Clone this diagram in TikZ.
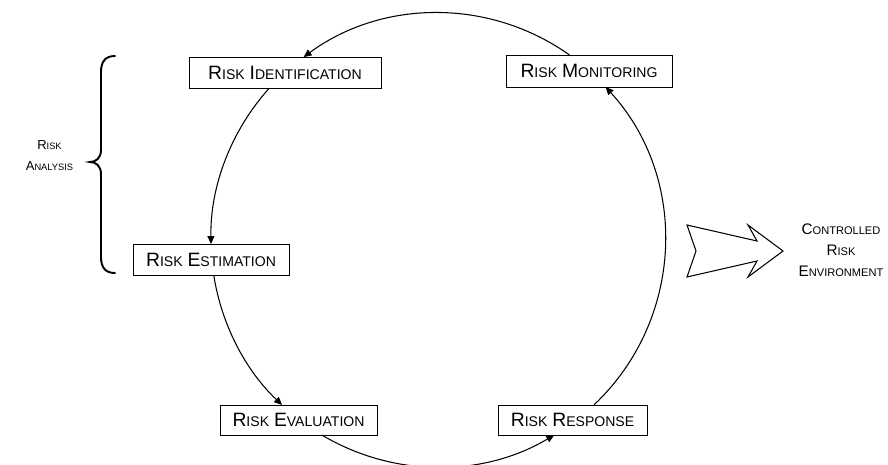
\documentclass[tikz,border=0pt]{standalone}
\usepackage{fontspec}
\setmainfont{Liberation Sans}
\usetikzlibrary{arrows.meta}
\newcommand\capsm[2]{{\fontsize{11}{13}\selectfont #1}{\fontsize{8}{10}\selectfont #2}}
\newcommand\capsa[2]{{\fontsize{7.4}{8.5}\selectfont #1}{\fontsize{5.3}{8.5}\selectfont #2}}
\newcommand\capsb[2]{{\fontsize{8.7}{10.2}\selectfont #1}{\fontsize{6.3}{10.2}\selectfont #2}}
\begin{document}
\begin{tikzpicture}[x=0.02cm,y=0.02cm,
  riskbox/.style={draw,line width=0.55pt,inner sep=0pt,fill=white},
  conn/.style={line width=0.6pt,-{Triangle[length=4.5pt,width=4pt]}},
  bracepath/.style={line width=1.1pt,line cap=round},
  bigarrow/.style={line width=0.6pt,line join=miter}]
\useasboundingbox (0,0) rectangle (888,464);
\coordinate (C) at (438,224);
% boxes
\node[riskbox,minimum width=3.84cm,minimum height=0.62cm] (ident) at (285,391.5) {\capsm{R}{ISK} \capsm{I}{DENTIFICATION}};
\node[riskbox,minimum width=3.32cm,minimum height=0.64cm] (monit) at (589,393) {\capsm{R}{ISK} \capsm{M}{ONITORING}};
\node[riskbox,minimum width=3.12cm,minimum height=0.62cm] (estim) at (211,204.5) {\capsm{R}{ISK} \capsm{E}{STIMATION}};
\node[riskbox,minimum width=3.14cm,minimum height=0.60cm] (evalu) at (298.5,44) {\capsm{R}{ISK} \capsm{E}{VALUATION}};
\node[riskbox,minimum width=2.98cm,minimum height=0.60cm] (respo) at (572.5,44) {\capsm{R}{ISK} \capsm{R}{ESPONSE}};
% points of the cycle on the circle
\path (C) ++(54.6:227) coordinate (mo);
\path (C) ++(138:227) coordinate (io);
\path (C) ++(188.9:227) coordinate (so);
\path (C) ++(239.2:227) coordinate (vo);
\path (C) ++(313.4:227) coordinate (ro);
% connectors
\draw[conn] (mo) arc[start angle=54.6, end angle=126.3, radius=227];
\draw[conn] (io) arc[start angle=138, end angle=181, radius=227];
\draw[conn] (so) arc[start angle=188.9, end angle=226.6, radius=227];
\draw[conn] (vo) arc[start angle=239.2, end angle=300.8, radius=227];
\draw[conn] (ro) arc[start angle=313.4, end angle=402.4, radius=227];
% brace
\draw[bracepath] (115,408) .. controls (105,408) and (101,402) .. (101,392) -- (101,314)
  .. controls (101,306) and (96,302) .. (90,302)
  .. controls (96,302) and (101,298) .. (101,290) -- (101,207)
  .. controls (101,197) and (105,191) .. (115,191);
\node[align=center,inner sep=0pt] (analysis) at (49.5,308) {\capsa{R}{ISK}\\\capsa{A}{NALYSIS}};
% big arrow
\draw[bigarrow] (687,239) -- (757,223) -- (748,239) -- (783,213) -- (748,187) -- (757,203) -- (687,187) -- (696,213) -- cycle;
\node[align=center,inner sep=0pt] (env) at (841,214) {\capsb{C}{ONTROLLED}\\\capsb{R}{ISK}\\\capsb{E}{NVIRONMENT}};
\end{tikzpicture}
\end{document}
